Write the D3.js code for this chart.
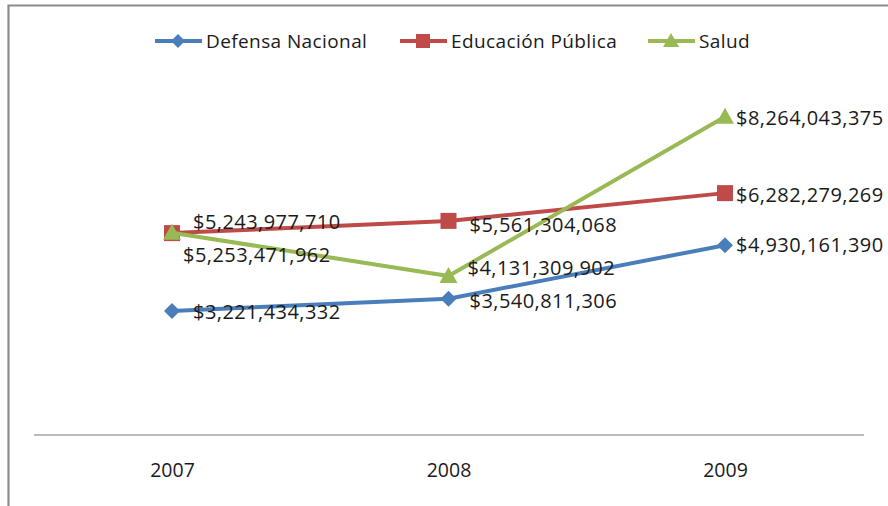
<!DOCTYPE html>
<html><head><meta charset="utf-8">
<script src="https://cdn.jsdelivr.net/npm/d3@7"></script>
<style>html,body{margin:0;padding:0;background:#fff;}svg{display:block;}</style>
</head><body>
<script>
const categories = ["2007", "2008", "2009"];
const seriesNames = ["Defensa Nacional", "Educación Pública", "Salud"];
const defensa = [3221434332, 3540811306, 4930161390];
const educacion = [5243977710, 5561304068, 6282279269];
const salud = [5253471962, 4131309902, 8264043375];
const yDomain = [0, 10000000000];

const W = 888, H = 506;
const FONT = "'Open Sans', sans-serif";
const colors = ["#4a7ebb", "#be4b48", "#98b954"];
const markers = ["diamond", "square", "triangle"];
// label nudges (layout only) per series per category: [dx, dy]
const labelNudge = [
  [[21, 1], [21, 2], [11, 0]],
  [[21, -11], [21, 4], [11, 2]],
  [[11, 22], [19, -8], [11, 1]]
];

const series = [defensa, educacion, salud].map((vals, i) => ({
  name: seriesNames[i], color: colors[i], marker: markers[i],
  values: vals.map((v, j) => ({cat: categories[j], v}))
}));

const svg = d3.select("body").append("svg").attr("width", W).attr("height", H);

// chart frame
svg.append("path").attr("d", `M8.5,${H} V5.5 H${W}`).attr("fill", "none")
  .attr("stroke", "#8c8c8c").attr("stroke-width", 2.2);

const x = d3.scalePoint().domain(categories).range([172, 725]);
const y = d3.scaleLinear().domain(yDomain).range([435, 50]);

// category axis
const axisG = svg.append("g").attr("transform", "translate(0,435)");
axisG.append("line").attr("x1", 34).attr("x2", 864).attr("y1", 0).attr("y2", 0)
  .attr("stroke", "#a6a6a6").attr("stroke-width", 1.5);
axisG.call(g => {
  const ax = d3.axisBottom(x).tickSize(0).tickPadding(28);
  g.call(ax);
  g.select(".domain").remove();
  g.selectAll("text").attr("font-family", FONT).attr("font-size", 19.5).attr("fill", "#1a1a1a");
});

const line = d3.line().x(d => x(d.cat)).y(d => y(d.v));

function drawMarker(g, type, color, cx, cy, r) {
  if (type === "diamond") {
    g.append("path").attr("d", `M${cx},${cy - r} L${cx + r},${cy} L${cx},${cy + r} L${cx - r},${cy} Z`).attr("fill", color);
  } else if (type === "square") {
    g.append("rect").attr("x", cx - r).attr("y", cy - r).attr("width", 2 * r).attr("height", 2 * r).attr("fill", color);
  } else {
    g.append("path").attr("d", `M${cx},${cy - r - 1} L${cx + r + 1},${cy + r - 1} L${cx - r - 1},${cy + r - 1} Z`).attr("fill", color);
  }
}

const fmt = d3.format("$,");

series.forEach((s, i) => {
  const g = svg.append("g");
  g.append("path").datum(s.values).attr("d", line).attr("fill", "none")
    .attr("stroke", s.color).attr("stroke-width", 4).attr("stroke-linejoin", "round");
  s.values.forEach(d => drawMarker(g, s.marker, s.color, x(d.cat), y(d.v), 8));
});

// data labels
series.forEach((s, i) => {
  s.values.forEach((d, j) => {
    const [dx, dy] = labelNudge[i][j];
    svg.append("text").attr("x", x(d.cat) + dx).attr("y", y(d.v) + dy)
      .attr("dy", "0.35em").attr("font-family", FONT).attr("font-size", 20)
      .attr("letter-spacing", 0.45).attr("fill", "#1a1a1a").text(fmt(d.v));
  });
});

// legend
const legendX = [155, 400, 648];
series.forEach((s, i) => {
  const g = svg.append("g");
  const lx = legendX[i], ly = 41;
  g.append("line").attr("x1", lx).attr("x2", lx + 47).attr("y1", ly).attr("y2", ly)
    .attr("stroke", s.color).attr("stroke-width", 4);
  drawMarker(g, s.marker, s.color, lx + 23, ly, 7);
  g.append("text").attr("x", lx + 51).attr("y", ly).attr("dy", "0.35em")
    .attr("font-family", FONT).attr("font-size", 19).attr("letter-spacing", 0.4)
    .attr("fill", "#1a1a1a").text(s.name);
});
</script>
</body></html>
